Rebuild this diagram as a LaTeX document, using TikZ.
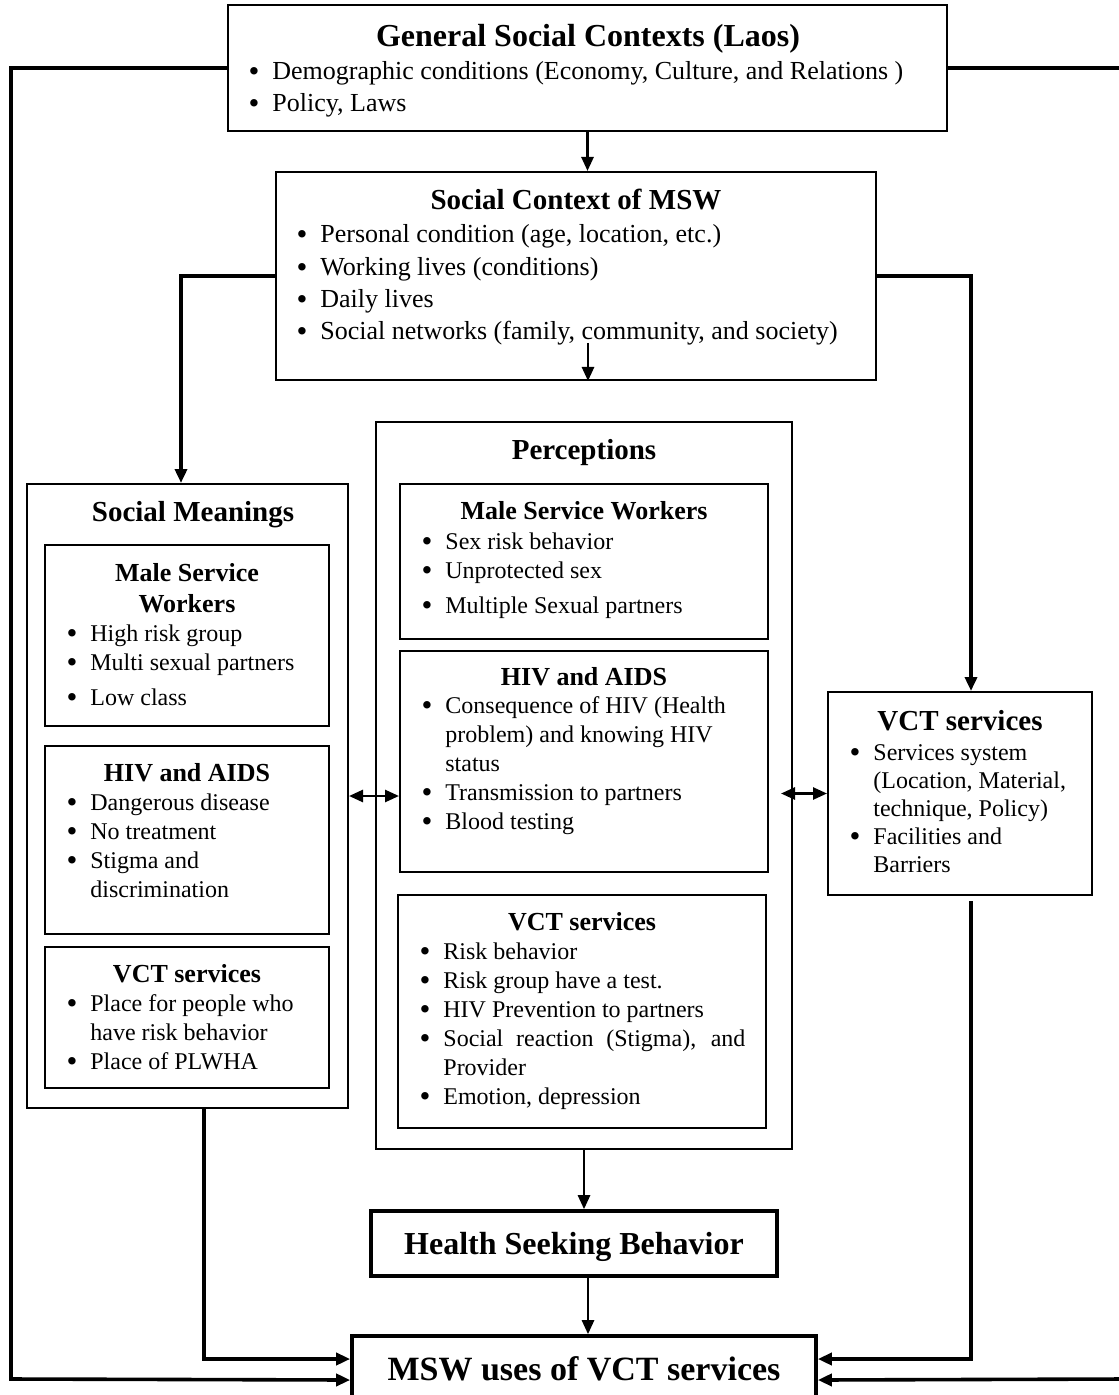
\documentclass[tikz,border=0pt]{standalone}
\usepackage{fontspec}
\setmainfont{Liberation Serif}
\usetikzlibrary{arrows.meta,fit,calc}

\newcommand{\bu}{\llap{\raisebox{-1pt}{\fontsize{15.5}{15.5}\selectfont\textbullet}\hspace{6.5pt}}}

\begin{document}
\begin{tikzpicture}[
  x=0.5pt, y=-0.5pt,
  frame/.style={draw, line width=1pt, inner sep=0pt},
  heavy/.style={draw, line width=1.8pt, inner sep=0pt},
  head/.style={anchor=base, inner sep=0pt, font=\fontsize{14.5}{17}\selectfont\bfseries},
  subhead/.style={anchor=base, inner sep=0pt, align=center, font=\fontsize{13}{15.5}\selectfont\bfseries},
  items/.style={anchor=base west, inner sep=0pt, align=left, font=\fontsize{12}{14.5}\selectfont},
  bigitems/.style={items, font=\fontsize{13}{16.2}\selectfont},
  link/.style={line width=1.3pt, -{Triangle[length=7pt,width=6pt]}},
  route/.style={line width=1.8pt, -{Triangle[length=7pt,width=6pt]}},
  twoway/.style={line width=1.3pt, {Triangle[length=7pt,width=6pt]}-{Triangle[length=7pt,width=6pt]}},
]
\useasboundingbox (0,0) rectangle (1118,1395);

% general context (lists sit on the baseline of their last line)
\node[frame, fit={(228,5) (947,131)}] (gen) {};
\node[head, font=\fontsize{16}{19}\selectfont\bfseries] (genT) at (588,47) {General Social Contexts (Laos)};
\node[bigitems] (genL) at (272,112) {\bu Demographic conditions (Economy, Culture, and Relations )\\ \bu Policy, Laws};

% context of MSW
\node[frame, fit={(276,172) (876,380)}] (ctx) {};
\node[head] (ctxT) at (576,210) {Social Context of MSW};
\node[bigitems] (ctxL) at (320,340) {\bu Personal condition (age, location, etc.)\\ \bu Working lives (conditions)\\ \bu Daily lives\\ \bu Social networks (family, community, and society)};

% social meanings
\node[frame, fit={(27,484) (348,1108)}] (mean) {};
\node[head] (meanT) at (193,521) {Social Meanings};
\node[frame, fit={(45,545) (329,726)}] (meanMSW) {};
\node[subhead] (meanMSWT) at (187,612) {Male Service\\Workers};
\node[items] (meanMSWL) at (90,705) {\bu High risk group\\ \bu Multi sexual partners\\[3pt] \bu Low class};
\node[frame, fit={(45,746) (329,934)}] (meanHIV) {};
\node[subhead] (meanHIVT) at (187,781) {HIV and AIDS};
\node[items] (meanHIVL) at (90,897) {\bu Dangerous disease\\ \bu No treatment\\ \bu Stigma and\\ discrimination};
\node[frame, fit={(45,947) (329,1088)}] (meanVCT) {};
\node[subhead] (meanVCTT) at (187,982) {VCT services};
\node[items] (meanVCTL) at (90,1069) {\bu Place for people who\\ have risk behavior\\ \bu Place of PLWHA};

% perceptions
\node[frame, fit={(376,422) (792,1149)}] (perc) {};
\node[head] (percT) at (584,459) {Perceptions};
\node[frame, fit={(400,484) (768,639)}] (percMSW) {};
\node[subhead] (percMSWT) at (584,519) {Male Service Workers};
\node[items] (percMSWL) at (445,613) {\bu Sex risk behavior\\ \bu Unprotected sex\\[3pt] \bu Multiple Sexual partners};
\node[frame, fit={(400,651) (768,872)}] (percHIV) {};
\node[subhead] (percHIVT) at (584,685) {HIV and AIDS};
\node[items] (percHIVL) at (445,829) {\bu Consequence of HIV (Health\\ problem) and knowing HIV\\ status\\ \bu Transmission to partners\\ \bu Blood testing};
\node[frame, fit={(398,895) (766,1128)}] (percVCT) {};
\node[subhead] (percVCTT) at (582,930) {VCT services};
\node[items] (percVCTL) at (443,1104) {\bu Risk behavior\\ \bu Risk group have a test.\\ \bu HIV Prevention to partners\\ \bu \makebox[151pt][s]{Social reaction (Stigma), and}\\ Provider\\ \bu Emotion, depression};

% services
\node[frame, fit={(828,692) (1092,895)}] (vct) {};
\node[head] (vctT) at (960,730) {VCT services};
\node[items, font=\fontsize{12}{14}\selectfont] (vctL) at (873,872) {\bu Services system\\ (Location, Material,\\ technique, Policy)\\ \bu Facilities and\\ Barriers};

% outcome
\node[heavy, fit={(371,1211) (777,1276)}] (hsb) {};
\node[head, font=\fontsize{16}{19}\selectfont\bfseries] (hsbT) at (574,1254) {Health Seeking Behavior};
\node[heavy, fit={(352,1336) (816,1404)}] (use) {};
\node[head, font=\fontsize{17}{20}\selectfont\bfseries] (useT) at (584,1380) {MSW uses of VCT services};

\coordinate (ctxin) at (588,343);
\coordinate (cornerL) at (11,1379);
\coordinate (cornerR) at (1124,1379);

\draw[link] (gen.south) -- (gen.south |- ctx.north);
\draw[link] (ctxin) -- (ctxin |- ctx.south);
\draw[route] (ctx.west) -| ([xshift=-3.25pt]mean.north);
\draw[route] (ctx.east) -| ([xshift=5.5pt]vct.north);
\draw[route] (gen.west) -| (cornerL) -- ([yshift=-5pt]use.west);
\draw[route] (gen.east) -| (cornerR) -- ([yshift=-5pt]use.east);
\draw[route] ([xshift=8.25pt]mean.south) |- ([yshift=5.5pt]use.west);
\draw[route] ([xshift=5.5pt,yshift=-2.5pt]vct.south) |- ([yshift=5.5pt]use.east);
\draw[link] (perc.south) -- (perc.south |- hsb.north);
\draw[link] ([xshift=7pt]hsb.south) -- ([xshift=7pt]hsb.south |- use.north);
\draw[twoway] (mean.east) -- (mean.east -| percHIV.west);
\draw[twoway] ([xshift=-23pt]vct.west) -- (vct.west);
\end{tikzpicture}
\end{document}
